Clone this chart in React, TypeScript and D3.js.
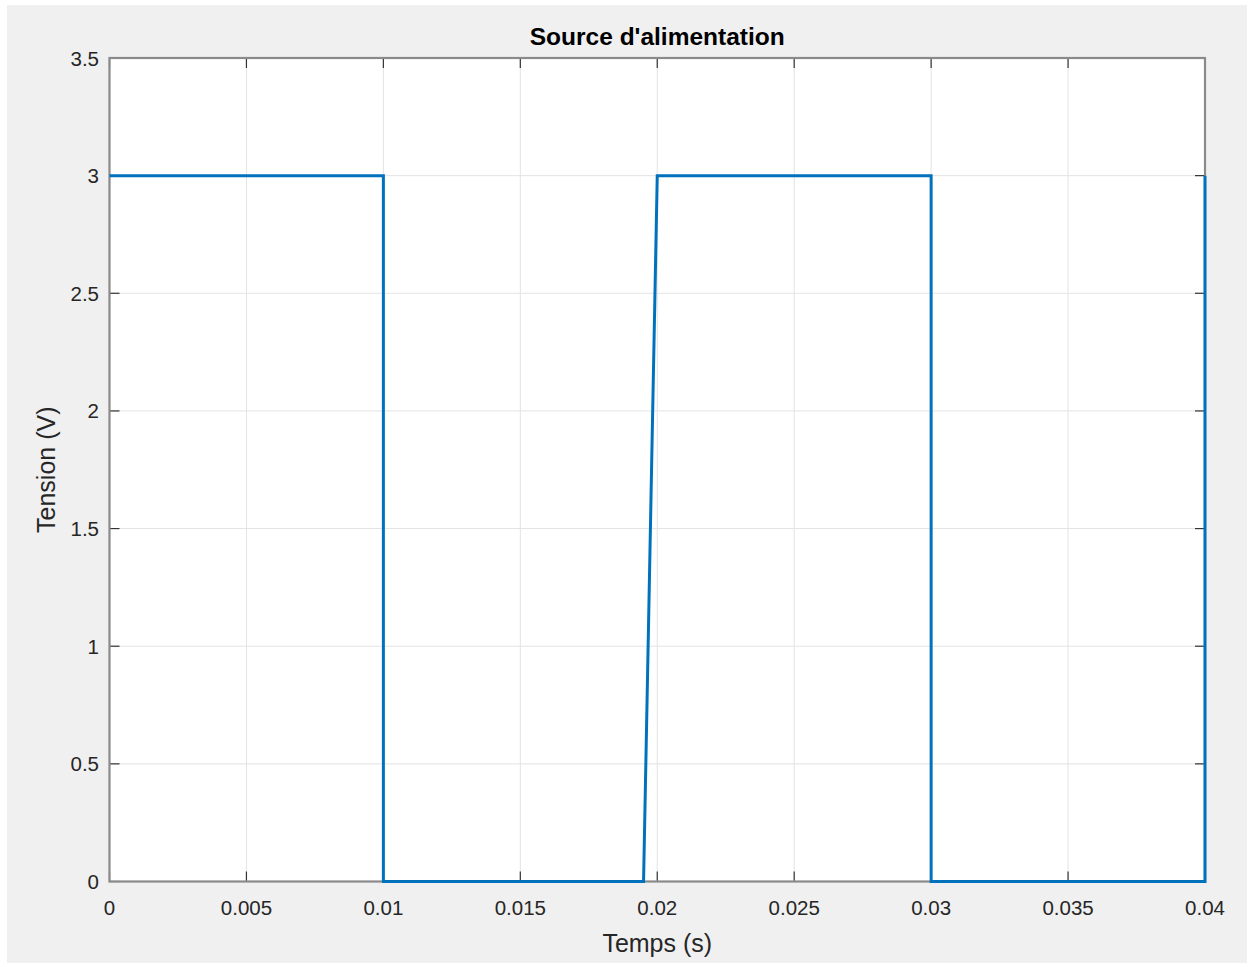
import React from "react";
import * as d3 from "d3";

// Supply voltage waveform: time (s) and voltage (V)
const timeS = [0, 0.01, 0.01, 0.0195, 0.02, 0.03, 0.03, 0.04, 0.04];
const voltageV = [3, 3, 0, 0, 3, 3, 0, 0, 3];

const xTicks = [0, 0.005, 0.01, 0.015, 0.02, 0.025, 0.03, 0.035, 0.04];
const yTicks = [0, 0.5, 1, 1.5, 2, 2.5, 3, 3.5];

const titleText = "Source d'alimentation";
const xLabelText = "Temps (s)";
const yLabelText = "Tension (V)";

const W = 1251;
const H = 967;
const margin = { left: 109.5, right: W - 1205, top: 58, bottom: H - 881.5 };

export default function App() {
  const x = d3
    .scaleLinear()
    .domain([0, 0.04])
    .range([margin.left, W - margin.right]);
  const y = d3
    .scaleLinear()
    .domain([0, 3.5])
    .range([H - margin.bottom, margin.top]);

  const line = d3
    .line<number>()
    .x((_, i) => x(timeS[i]))
    .y((v) => y(v));

  const x0 = x.range()[0];
  const x1 = x.range()[1];
  const y0 = y.range()[0];
  const y1 = y.range()[1];
  const font = "'Liberation Sans', Arial, Helvetica, sans-serif";
  const axisColor = "#8a8a8a";
  const tickLen = 10;
  const tickFs = 20.5;

  return (
    <svg
      width={W}
      height={H}
      style={{ position: "absolute", left: 0, top: 0, background: "#fff" }}
      fontFamily={font}
    >
      <rect x={7} y={5} width={W - 11} height={H - 9} fill="#f0f0f0" />
      <rect x={x0} y={y1} width={x1 - x0} height={y0 - y1} fill="#fff" />

      {/* grid */}
      {xTicks.map((t) => (
        <line
          key={"gx" + t}
          x1={x(t)}
          x2={x(t)}
          y1={y0}
          y2={y1}
          stroke="#e3e3e3"
          strokeWidth={1}
        />
      ))}
      {yTicks.map((t) => (
        <line
          key={"gy" + t}
          x1={x0}
          x2={x1}
          y1={y(t)}
          y2={y(t)}
          stroke="#e3e3e3"
          strokeWidth={1}
        />
      ))}

      {/* tick marks on all four sides, pointing inward */}
      {xTicks.map((t) => (
        <g key={"tx" + t} stroke="#333" strokeWidth={1.2}>
          <line x1={x(t)} x2={x(t)} y1={y0} y2={y0 - tickLen} />
          <line x1={x(t)} x2={x(t)} y1={y1} y2={y1 + tickLen} />
        </g>
      ))}
      {yTicks.map((t) => (
        <g key={"ty" + t} stroke="#333" strokeWidth={1.2}>
          <line x1={x0} x2={x0 + tickLen} y1={y(t)} y2={y(t)} />
          <line x1={x1} x2={x1 - tickLen} y1={y(t)} y2={y(t)} />
        </g>
      ))}

      {/* axes box */}
      <rect
        x={x0}
        y={y1}
        width={x1 - x0}
        height={y0 - y1}
        fill="none"
        stroke={axisColor}
        strokeWidth={2.2}
      />

      {/* tick labels */}
      {xTicks.map((t) => (
        <text
          key={"lx" + t}
          x={x(t)}
          y={915}
          textAnchor="middle"
          fontSize={tickFs}
          fill="#262626"
        >
          {d3.format("~g")(t)}
        </text>
      ))}
      {yTicks.map((t) => (
        <text
          key={"ly" + t}
          x={99}
          y={y(t) + 7.5}
          textAnchor="end"
          fontSize={tickFs}
          fill="#262626"
        >
          {d3.format("~g")(t)}
        </text>
      ))}

      {/* signal */}
      <path
        d={line(voltageV) || ""}
        fill="none"
        stroke="#0072BD"
        strokeWidth={3}
        strokeLinejoin="miter"
      />

      {/* title and labels */}
      <text
        x={(x0 + x1) / 2}
        y={45}
        textAnchor="middle"
        fontSize={24.5}
        fontWeight="bold"
        fill="#000"
      >
        {titleText}
      </text>
      <text
        x={(x0 + x1) / 2}
        y={952}
        textAnchor="middle"
        fontSize={25}
        fill="#262626"
      >
        {xLabelText}
      </text>
      <text
        transform={`translate(55, ${(y0 + y1) / 2}) rotate(-90)`}
        textAnchor="middle"
        fontSize={25}
        fill="#262626"
      >
        {yLabelText}
      </text>
    </svg>
  );
}
